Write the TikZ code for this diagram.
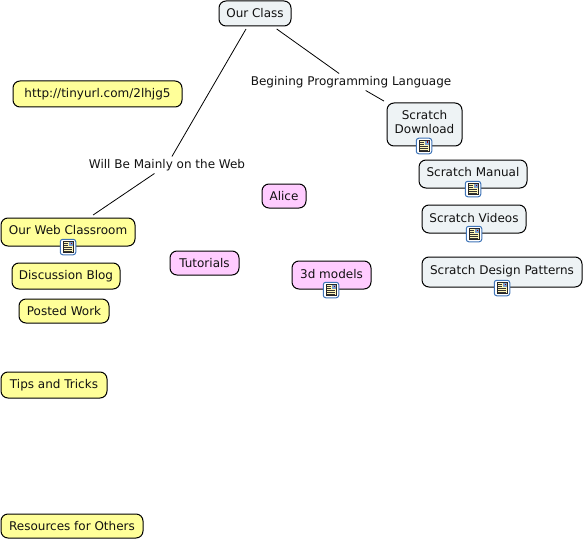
\documentclass[tikz,border=0pt]{standalone}
\usepackage{fontspec}
\setmainfont{DejaVu Sans}
\definecolor{cyel}{HTML}{FFFF99}
\definecolor{cpink}{HTML}{FFCCFF}
\definecolor{cblue}{HTML}{EEF3F5}
\definecolor{ctxt}{HTML}{111111}
\definecolor{iconblue}{HTML}{3F74B8}
\definecolor{iconpaper}{HTML}{FFF6B8}
\tikzset{
  concept/.style={draw=black,line width=1pt,rounded corners=7pt,align=center,inner sep=0pt,
    text=ctxt,font=\fontsize{12}{15}\selectfont,outer sep=3pt},
  yel/.style={concept,fill=cyel},
  pink/.style={concept,fill=cpink},
  blue/.style={concept,fill=cblue},
  linker/.style={inner sep=0pt,text=ctxt,font=\fontsize{12}{15}\selectfont,minimum height=17pt,outer sep=0pt},
  conn/.style={draw=black,line width=0.8pt},
  iconframe/.style={draw=iconblue,fill=white,line width=1pt,rounded corners=2.5pt,minimum size=15.5pt,inner sep=0pt},
}
\newcommand{\docicon}[2]{%
  \node[iconframe] (#1) at (#2) {};
  \fill[iconpaper,draw=black!85,line width=0.6pt] ([shift={(-5,-5.5)}]#1.center) rectangle ([shift={(5,5.5)}]#1.center);
  \fill[iconblue!70] ([shift={(0.5,-5)}]#1.center) rectangle ([shift={(4.5,-1)}]#1.center);
  \fill[red!60!black] ([shift={(2.5,-4.5)}]#1.center) rectangle ([shift={(4,-3)}]#1.center);
  \foreach \yy in {-3.5,-1.5,0.5,2.5,4}{\draw[black!80,line width=0.5pt] ([shift={(-3.8,\yy)}]#1.center) -- ([shift={(\ifdim\yy pt<0pt -0.5\else 3.8\fi,\yy)}]#1.center);}
}
\begin{document}
\begin{tikzpicture}[x=1pt,y=-1pt]
\useasboundingbox (0,0) rectangle (585,540);
\node[blue,minimum width=72pt,minimum height=25pt] (class) at (255,13.5) {Our Class};
\node[yel,minimum width=169pt,minimum height=26pt] (url) at (97.5,94) {http://tinyurl.com/2lhjg5};
\node[linker] (web) at (167,165) {Will Be Mainly on the Web};
\node[linker] (lang) at (351,82) {Begining Programming Language};
\node[blue,minimum width=75pt,minimum height=43pt] (dl) at (424.5,124.5) {\parbox{70pt}{\centering\fontsize{12}{14.5}\selectfont Scratch\\Download\par\vspace{5pt}}};
\node[blue,minimum width=108pt,minimum height=28pt] (man) at (473,174) {\raisebox{4pt}{Scratch Manual}};
\node[blue,minimum width=104pt,minimum height=28pt] (vid) at (474,219) {\raisebox{1.5pt}{Scratch Videos}};
\node[blue,minimum width=160pt,minimum height=30pt] (pat) at (502,272) {\raisebox{5pt}{Scratch Design Patterns}};
\node[pink,minimum width=44pt,minimum height=24pt] (alice) at (284,196) {Alice};
\node[pink,minimum width=69pt,minimum height=24pt] (tut) at (204.5,263) {Tutorials};
\node[pink,minimum width=79pt,minimum height=28pt] (models) at (331.5,275) {\raisebox{3pt}{3d models}};
\node[yel,minimum width=134pt,minimum height=28pt] (room) at (68,232) {\raisebox{4pt}{Our Web Classroom}};
\node[yel,minimum width=108pt,minimum height=26pt] (blog) at (66,276) {Discussion Blog};
\node[yel,minimum width=90pt,minimum height=24pt] (work) at (64,311) {Posted Work};
\node[yel,minimum width=106pt,minimum height=26pt] (tips) at (54,385) {Tips and Tricks};
\node[yel,minimum width=142pt,minimum height=24pt] (res) at (72,526) {Resources for Others};
\draw[conn] (class) -- (web);
\draw[conn] (web) -- (room);
\draw[conn] (class) -- (lang);
\draw[conn] (lang) -- (dl);
\docicon{i1}{424,146}
\docicon{i2}{473,189}
\docicon{i3}{474,234}
\docicon{i4}{502,288}
\docicon{i5}{331,290}
\docicon{i6}{68,247}
\end{tikzpicture}
\end{document}
